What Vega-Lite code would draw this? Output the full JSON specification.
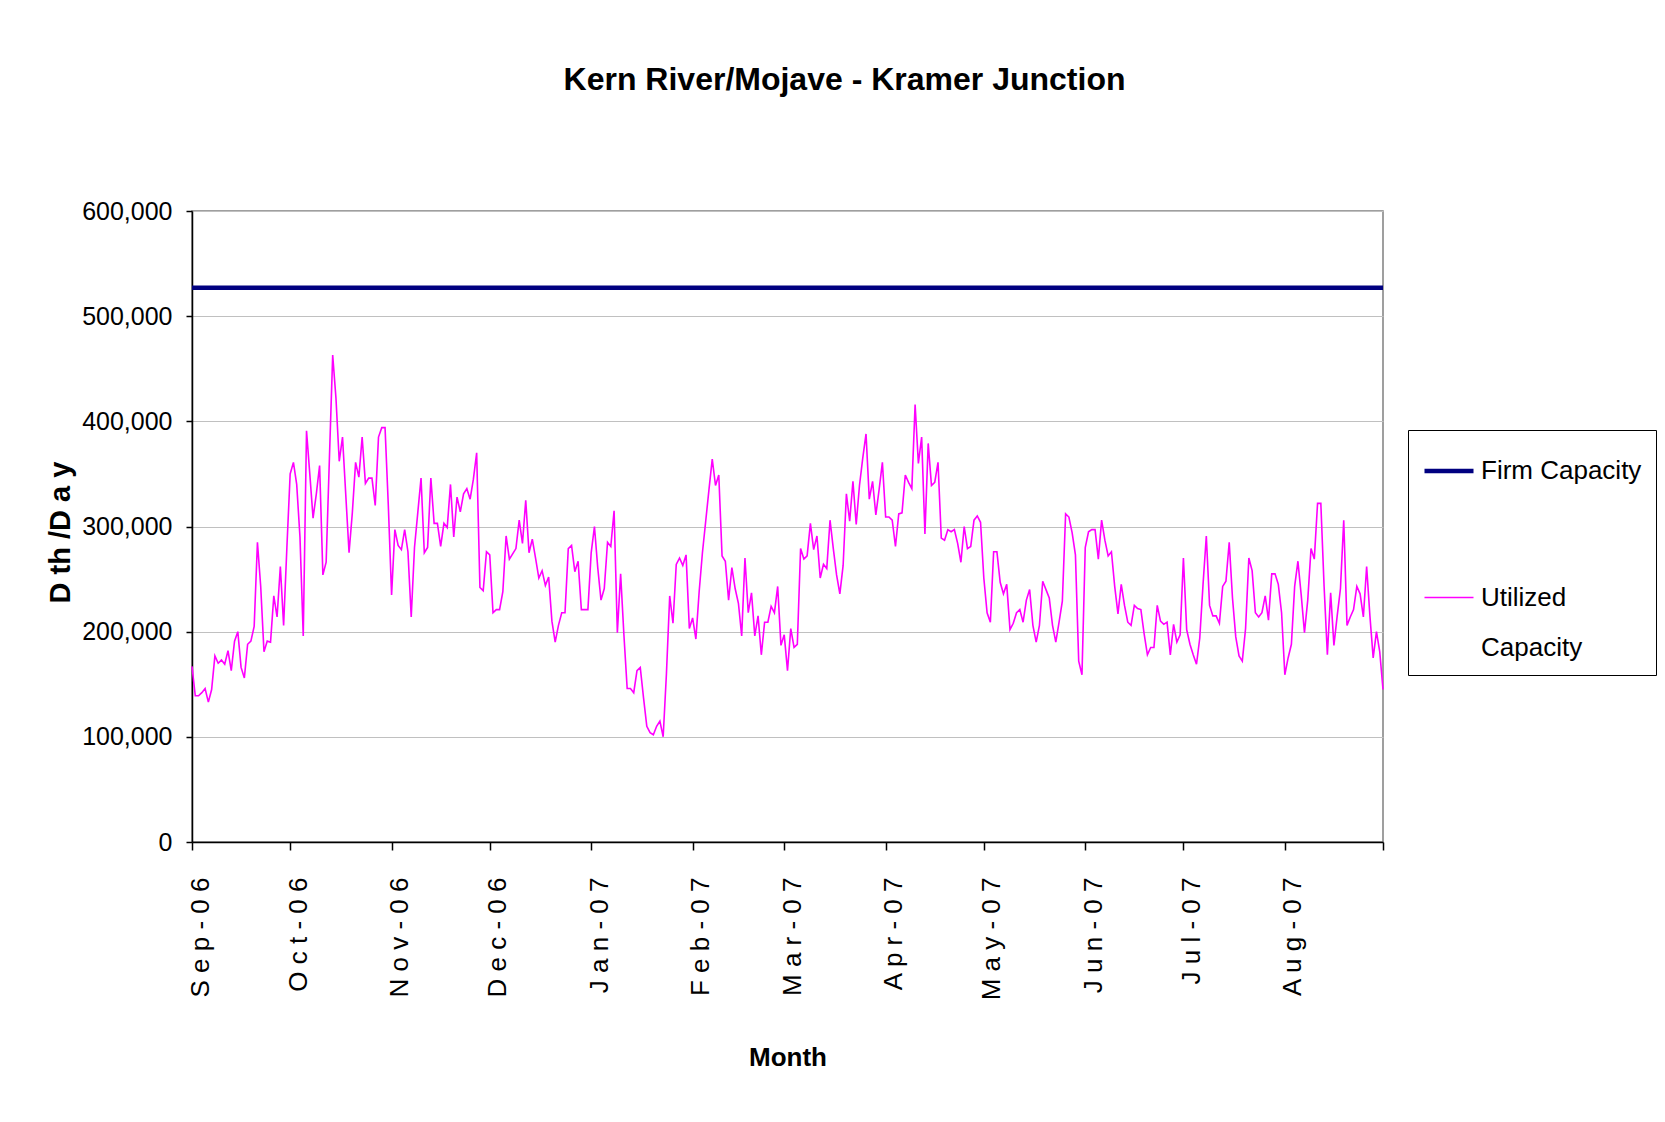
{
"$schema": "https://vega.github.io/schema/vega-lite/v6.json",
"width": 1191, "height": 631,
"autosize": "none",
"padding": {"left": 192, "top": 211, "right": 282, "bottom": 280},
"background": "white",
"title": {"text": "Kern River/Mojave - Kramer Junction", "font": "Liberation Sans", "fontSize": 32, "fontWeight": "bold", "color": "black", "anchor": "middle", "frame": "group", "dx": 57, "offset": 77, "baseline": "alphabetic"},
"config": {"view": {"stroke": "#808080", "strokeWidth": 1.5}, "style": {"guide-label": {"lineHeight": 50}}},
"data": {"values": [
{"date":"2006-09-01","s":"F","v":527000},{"date":"2007-08-31","s":"F","v":527000},
{"date":"2006-09-01","s":"U","v":167000},{"date":"2006-09-02","s":"U","v":139000},{"date":"2006-09-03","s":"U","v":139000},{"date":"2006-09-04","s":"U","v":142000},{"date":"2006-09-05","s":"U","v":146000},{"date":"2006-09-06","s":"U","v":133000},{"date":"2006-09-07","s":"U","v":145000},{"date":"2006-09-08","s":"U","v":177000},{"date":"2006-09-09","s":"U","v":170000},{"date":"2006-09-10","s":"U","v":173000},{"date":"2006-09-11","s":"U","v":169000},{"date":"2006-09-12","s":"U","v":182000},{"date":"2006-09-13","s":"U","v":163000},{"date":"2006-09-14","s":"U","v":191000},{"date":"2006-09-15","s":"U","v":200000},{"date":"2006-09-16","s":"U","v":166000},{"date":"2006-09-17","s":"U","v":156000},{"date":"2006-09-18","s":"U","v":188000},{"date":"2006-09-19","s":"U","v":191000},{"date":"2006-09-20","s":"U","v":205000},{"date":"2006-09-21","s":"U","v":285000},{"date":"2006-09-22","s":"U","v":243000},{"date":"2006-09-23","s":"U","v":181000},{"date":"2006-09-24","s":"U","v":191000},{"date":"2006-09-25","s":"U","v":190000},{"date":"2006-09-26","s":"U","v":234000},{"date":"2006-09-27","s":"U","v":214000},{"date":"2006-09-28","s":"U","v":262000},{"date":"2006-09-29","s":"U","v":206000},{"date":"2006-09-30","s":"U","v":280000},
{"date":"2006-10-01","s":"U","v":350000},{"date":"2006-10-02","s":"U","v":361000},{"date":"2006-10-03","s":"U","v":340000},{"date":"2006-10-04","s":"U","v":290000},{"date":"2006-10-05","s":"U","v":196000},{"date":"2006-10-06","s":"U","v":391000},{"date":"2006-10-07","s":"U","v":350000},{"date":"2006-10-08","s":"U","v":308000},{"date":"2006-10-09","s":"U","v":331000},{"date":"2006-10-10","s":"U","v":358000},{"date":"2006-10-11","s":"U","v":254000},{"date":"2006-10-12","s":"U","v":266000},{"date":"2006-10-13","s":"U","v":365000},{"date":"2006-10-14","s":"U","v":463000},{"date":"2006-10-15","s":"U","v":422000},{"date":"2006-10-16","s":"U","v":362000},{"date":"2006-10-17","s":"U","v":385000},{"date":"2006-10-18","s":"U","v":330000},{"date":"2006-10-19","s":"U","v":275000},{"date":"2006-10-20","s":"U","v":313000},{"date":"2006-10-21","s":"U","v":361000},{"date":"2006-10-22","s":"U","v":347000},{"date":"2006-10-23","s":"U","v":385000},{"date":"2006-10-24","s":"U","v":341000},{"date":"2006-10-25","s":"U","v":346000},{"date":"2006-10-26","s":"U","v":346000},{"date":"2006-10-27","s":"U","v":320000},{"date":"2006-10-28","s":"U","v":385000},{"date":"2006-10-29","s":"U","v":394000},{"date":"2006-10-30","s":"U","v":394000},{"date":"2006-10-31","s":"U","v":320000},
{"date":"2006-11-01","s":"U","v":235000},{"date":"2006-11-02","s":"U","v":297000},{"date":"2006-11-03","s":"U","v":282000},{"date":"2006-11-04","s":"U","v":278000},{"date":"2006-11-05","s":"U","v":297000},{"date":"2006-11-06","s":"U","v":276000},{"date":"2006-11-07","s":"U","v":214000},{"date":"2006-11-08","s":"U","v":280000},{"date":"2006-11-09","s":"U","v":313000},{"date":"2006-11-10","s":"U","v":346000},{"date":"2006-11-11","s":"U","v":275000},{"date":"2006-11-12","s":"U","v":280000},{"date":"2006-11-13","s":"U","v":346000},{"date":"2006-11-14","s":"U","v":303000},{"date":"2006-11-15","s":"U","v":303000},{"date":"2006-11-16","s":"U","v":281000},{"date":"2006-11-17","s":"U","v":303000},{"date":"2006-11-18","s":"U","v":299000},{"date":"2006-11-19","s":"U","v":340000},{"date":"2006-11-20","s":"U","v":290000},{"date":"2006-11-21","s":"U","v":328000},{"date":"2006-11-22","s":"U","v":314000},{"date":"2006-11-23","s":"U","v":331000},{"date":"2006-11-24","s":"U","v":336000},{"date":"2006-11-25","s":"U","v":326000},{"date":"2006-11-26","s":"U","v":345000},{"date":"2006-11-27","s":"U","v":370000},{"date":"2006-11-28","s":"U","v":242000},{"date":"2006-11-29","s":"U","v":239000},{"date":"2006-11-30","s":"U","v":276000},
{"date":"2006-12-01","s":"U","v":273000},{"date":"2006-12-02","s":"U","v":218000},{"date":"2006-12-03","s":"U","v":221000},{"date":"2006-12-04","s":"U","v":221000},{"date":"2006-12-05","s":"U","v":238000},{"date":"2006-12-06","s":"U","v":291000},{"date":"2006-12-07","s":"U","v":269000},{"date":"2006-12-08","s":"U","v":274000},{"date":"2006-12-09","s":"U","v":279000},{"date":"2006-12-10","s":"U","v":306000},{"date":"2006-12-11","s":"U","v":284000},{"date":"2006-12-12","s":"U","v":325000},{"date":"2006-12-13","s":"U","v":275000},{"date":"2006-12-14","s":"U","v":288000},{"date":"2006-12-15","s":"U","v":270000},{"date":"2006-12-16","s":"U","v":251000},{"date":"2006-12-17","s":"U","v":258000},{"date":"2006-12-18","s":"U","v":244000},{"date":"2006-12-19","s":"U","v":252000},{"date":"2006-12-20","s":"U","v":210000},{"date":"2006-12-21","s":"U","v":190000},{"date":"2006-12-22","s":"U","v":206000},{"date":"2006-12-23","s":"U","v":218000},{"date":"2006-12-24","s":"U","v":218000},{"date":"2006-12-25","s":"U","v":279000},{"date":"2006-12-26","s":"U","v":282000},{"date":"2006-12-27","s":"U","v":257000},{"date":"2006-12-28","s":"U","v":267000},{"date":"2006-12-29","s":"U","v":221000},{"date":"2006-12-30","s":"U","v":221000},{"date":"2006-12-31","s":"U","v":221000},
{"date":"2007-01-01","s":"U","v":275000},{"date":"2007-01-02","s":"U","v":300000},{"date":"2007-01-03","s":"U","v":261000},{"date":"2007-01-04","s":"U","v":230000},{"date":"2007-01-05","s":"U","v":241000},{"date":"2007-01-06","s":"U","v":285000},{"date":"2007-01-07","s":"U","v":281000},{"date":"2007-01-08","s":"U","v":315000},{"date":"2007-01-09","s":"U","v":199000},{"date":"2007-01-10","s":"U","v":255000},{"date":"2007-01-11","s":"U","v":197000},{"date":"2007-01-12","s":"U","v":146000},{"date":"2007-01-13","s":"U","v":146000},{"date":"2007-01-14","s":"U","v":142000},{"date":"2007-01-15","s":"U","v":163000},{"date":"2007-01-16","s":"U","v":166000},{"date":"2007-01-17","s":"U","v":137000},{"date":"2007-01-18","s":"U","v":110000},{"date":"2007-01-19","s":"U","v":104000},{"date":"2007-01-20","s":"U","v":102000},{"date":"2007-01-21","s":"U","v":110000},{"date":"2007-01-22","s":"U","v":115000},{"date":"2007-01-23","s":"U","v":100000},{"date":"2007-01-24","s":"U","v":160000},{"date":"2007-01-25","s":"U","v":234000},{"date":"2007-01-26","s":"U","v":208000},{"date":"2007-01-27","s":"U","v":264000},{"date":"2007-01-28","s":"U","v":270000},{"date":"2007-01-29","s":"U","v":263000},{"date":"2007-01-30","s":"U","v":273000},{"date":"2007-01-31","s":"U","v":203000},
{"date":"2007-02-01","s":"U","v":213000},{"date":"2007-02-02","s":"U","v":193000},{"date":"2007-02-03","s":"U","v":238000},{"date":"2007-02-04","s":"U","v":275000},{"date":"2007-02-05","s":"U","v":305000},{"date":"2007-02-06","s":"U","v":335000},{"date":"2007-02-07","s":"U","v":364000},{"date":"2007-02-08","s":"U","v":339000},{"date":"2007-02-09","s":"U","v":349000},{"date":"2007-02-10","s":"U","v":272000},{"date":"2007-02-11","s":"U","v":267000},{"date":"2007-02-12","s":"U","v":230000},{"date":"2007-02-13","s":"U","v":261000},{"date":"2007-02-14","s":"U","v":241000},{"date":"2007-02-15","s":"U","v":227000},{"date":"2007-02-16","s":"U","v":196000},{"date":"2007-02-17","s":"U","v":270000},{"date":"2007-02-18","s":"U","v":218000},{"date":"2007-02-19","s":"U","v":237000},{"date":"2007-02-20","s":"U","v":196000},{"date":"2007-02-21","s":"U","v":215000},{"date":"2007-02-22","s":"U","v":178000},{"date":"2007-02-23","s":"U","v":209000},{"date":"2007-02-24","s":"U","v":209000},{"date":"2007-02-25","s":"U","v":224000},{"date":"2007-02-26","s":"U","v":218000},{"date":"2007-02-27","s":"U","v":243000},{"date":"2007-02-28","s":"U","v":187000},
{"date":"2007-03-01","s":"U","v":197000},{"date":"2007-03-02","s":"U","v":163000},{"date":"2007-03-03","s":"U","v":203000},{"date":"2007-03-04","s":"U","v":185000},{"date":"2007-03-05","s":"U","v":188000},{"date":"2007-03-06","s":"U","v":279000},{"date":"2007-03-07","s":"U","v":269000},{"date":"2007-03-08","s":"U","v":272000},{"date":"2007-03-09","s":"U","v":303000},{"date":"2007-03-10","s":"U","v":278000},{"date":"2007-03-11","s":"U","v":291000},{"date":"2007-03-12","s":"U","v":251000},{"date":"2007-03-13","s":"U","v":264000},{"date":"2007-03-14","s":"U","v":260000},{"date":"2007-03-15","s":"U","v":306000},{"date":"2007-03-16","s":"U","v":279000},{"date":"2007-03-17","s":"U","v":254000},{"date":"2007-03-18","s":"U","v":236000},{"date":"2007-03-19","s":"U","v":263000},{"date":"2007-03-20","s":"U","v":331000},{"date":"2007-03-21","s":"U","v":305000},{"date":"2007-03-22","s":"U","v":343000},{"date":"2007-03-23","s":"U","v":302000},{"date":"2007-03-24","s":"U","v":339000},{"date":"2007-03-25","s":"U","v":365000},{"date":"2007-03-26","s":"U","v":388000},{"date":"2007-03-27","s":"U","v":326000},{"date":"2007-03-28","s":"U","v":343000},{"date":"2007-03-29","s":"U","v":311000},{"date":"2007-03-30","s":"U","v":335000},{"date":"2007-03-31","s":"U","v":361000},
{"date":"2007-04-01","s":"U","v":309000},{"date":"2007-04-02","s":"U","v":309000},{"date":"2007-04-03","s":"U","v":306000},{"date":"2007-04-04","s":"U","v":281000},{"date":"2007-04-05","s":"U","v":312000},{"date":"2007-04-06","s":"U","v":313000},{"date":"2007-04-07","s":"U","v":349000},{"date":"2007-04-08","s":"U","v":342000},{"date":"2007-04-09","s":"U","v":336000},{"date":"2007-04-10","s":"U","v":416000},{"date":"2007-04-11","s":"U","v":360000},{"date":"2007-04-12","s":"U","v":385000},{"date":"2007-04-13","s":"U","v":293000},{"date":"2007-04-14","s":"U","v":379000},{"date":"2007-04-15","s":"U","v":339000},{"date":"2007-04-16","s":"U","v":342000},{"date":"2007-04-17","s":"U","v":361000},{"date":"2007-04-18","s":"U","v":289000},{"date":"2007-04-19","s":"U","v":287000},{"date":"2007-04-20","s":"U","v":297000},{"date":"2007-04-21","s":"U","v":295000},{"date":"2007-04-22","s":"U","v":297000},{"date":"2007-04-23","s":"U","v":284000},{"date":"2007-04-24","s":"U","v":266000},{"date":"2007-04-25","s":"U","v":300000},{"date":"2007-04-26","s":"U","v":279000},{"date":"2007-04-27","s":"U","v":281000},{"date":"2007-04-28","s":"U","v":306000},{"date":"2007-04-29","s":"U","v":310000},{"date":"2007-04-30","s":"U","v":304000},
{"date":"2007-05-01","s":"U","v":251000},{"date":"2007-05-02","s":"U","v":218000},{"date":"2007-05-03","s":"U","v":209000},{"date":"2007-05-04","s":"U","v":276000},{"date":"2007-05-05","s":"U","v":276000},{"date":"2007-05-06","s":"U","v":247000},{"date":"2007-05-07","s":"U","v":236000},{"date":"2007-05-08","s":"U","v":245000},{"date":"2007-05-09","s":"U","v":202000},{"date":"2007-05-10","s":"U","v":208000},{"date":"2007-05-11","s":"U","v":218000},{"date":"2007-05-12","s":"U","v":221000},{"date":"2007-05-13","s":"U","v":209000},{"date":"2007-05-14","s":"U","v":230000},{"date":"2007-05-15","s":"U","v":240000},{"date":"2007-05-16","s":"U","v":206000},{"date":"2007-05-17","s":"U","v":190000},{"date":"2007-05-18","s":"U","v":206000},{"date":"2007-05-19","s":"U","v":248000},{"date":"2007-05-20","s":"U","v":240000},{"date":"2007-05-21","s":"U","v":232000},{"date":"2007-05-22","s":"U","v":206000},{"date":"2007-05-23","s":"U","v":190000},{"date":"2007-05-24","s":"U","v":209000},{"date":"2007-05-25","s":"U","v":229000},{"date":"2007-05-26","s":"U","v":312000},{"date":"2007-05-27","s":"U","v":309000},{"date":"2007-05-28","s":"U","v":294000},{"date":"2007-05-29","s":"U","v":273000},{"date":"2007-05-30","s":"U","v":172000},{"date":"2007-05-31","s":"U","v":159000},
{"date":"2007-06-01","s":"U","v":280000},{"date":"2007-06-02","s":"U","v":295000},{"date":"2007-06-03","s":"U","v":297000},{"date":"2007-06-04","s":"U","v":297000},{"date":"2007-06-05","s":"U","v":269000},{"date":"2007-06-06","s":"U","v":306000},{"date":"2007-06-07","s":"U","v":287000},{"date":"2007-06-08","s":"U","v":272000},{"date":"2007-06-09","s":"U","v":276000},{"date":"2007-06-10","s":"U","v":243000},{"date":"2007-06-11","s":"U","v":217000},{"date":"2007-06-12","s":"U","v":245000},{"date":"2007-06-13","s":"U","v":225000},{"date":"2007-06-14","s":"U","v":209000},{"date":"2007-06-15","s":"U","v":206000},{"date":"2007-06-16","s":"U","v":225000},{"date":"2007-06-17","s":"U","v":222000},{"date":"2007-06-18","s":"U","v":221000},{"date":"2007-06-19","s":"U","v":198000},{"date":"2007-06-20","s":"U","v":178000},{"date":"2007-06-21","s":"U","v":185000},{"date":"2007-06-22","s":"U","v":185000},{"date":"2007-06-23","s":"U","v":225000},{"date":"2007-06-24","s":"U","v":210000},{"date":"2007-06-25","s":"U","v":207000},{"date":"2007-06-26","s":"U","v":209000},{"date":"2007-06-27","s":"U","v":178000},{"date":"2007-06-28","s":"U","v":207000},{"date":"2007-06-29","s":"U","v":190000},{"date":"2007-06-30","s":"U","v":197000},
{"date":"2007-07-01","s":"U","v":270000},{"date":"2007-07-02","s":"U","v":202000},{"date":"2007-07-03","s":"U","v":188000},{"date":"2007-07-04","s":"U","v":178000},{"date":"2007-07-05","s":"U","v":169000},{"date":"2007-07-06","s":"U","v":194000},{"date":"2007-07-07","s":"U","v":245000},{"date":"2007-07-08","s":"U","v":291000},{"date":"2007-07-09","s":"U","v":225000},{"date":"2007-07-10","s":"U","v":215000},{"date":"2007-07-11","s":"U","v":215000},{"date":"2007-07-12","s":"U","v":208000},{"date":"2007-07-13","s":"U","v":243000},{"date":"2007-07-14","s":"U","v":248000},{"date":"2007-07-15","s":"U","v":285000},{"date":"2007-07-16","s":"U","v":232000},{"date":"2007-07-17","s":"U","v":195000},{"date":"2007-07-18","s":"U","v":177000},{"date":"2007-07-19","s":"U","v":172000},{"date":"2007-07-20","s":"U","v":203000},{"date":"2007-07-21","s":"U","v":270000},{"date":"2007-07-22","s":"U","v":258000},{"date":"2007-07-23","s":"U","v":218000},{"date":"2007-07-24","s":"U","v":214000},{"date":"2007-07-25","s":"U","v":218000},{"date":"2007-07-26","s":"U","v":234000},{"date":"2007-07-27","s":"U","v":211000},{"date":"2007-07-28","s":"U","v":255000},{"date":"2007-07-29","s":"U","v":255000},{"date":"2007-07-30","s":"U","v":245000},{"date":"2007-07-31","s":"U","v":218000},
{"date":"2007-08-01","s":"U","v":159000},{"date":"2007-08-02","s":"U","v":175000},{"date":"2007-08-03","s":"U","v":188000},{"date":"2007-08-04","s":"U","v":243000},{"date":"2007-08-05","s":"U","v":267000},{"date":"2007-08-06","s":"U","v":235000},{"date":"2007-08-07","s":"U","v":199000},{"date":"2007-08-08","s":"U","v":230000},{"date":"2007-08-09","s":"U","v":279000},{"date":"2007-08-10","s":"U","v":269000},{"date":"2007-08-11","s":"U","v":322000},{"date":"2007-08-12","s":"U","v":322000},{"date":"2007-08-13","s":"U","v":243000},{"date":"2007-08-14","s":"U","v":178000},{"date":"2007-08-15","s":"U","v":237000},{"date":"2007-08-16","s":"U","v":187000},{"date":"2007-08-17","s":"U","v":215000},{"date":"2007-08-18","s":"U","v":241000},{"date":"2007-08-19","s":"U","v":306000},{"date":"2007-08-20","s":"U","v":206000},{"date":"2007-08-21","s":"U","v":214000},{"date":"2007-08-22","s":"U","v":221000},{"date":"2007-08-23","s":"U","v":243000},{"date":"2007-08-24","s":"U","v":236000},{"date":"2007-08-25","s":"U","v":214000},{"date":"2007-08-26","s":"U","v":262000},{"date":"2007-08-27","s":"U","v":215000},{"date":"2007-08-28","s":"U","v":175000},{"date":"2007-08-29","s":"U","v":200000},{"date":"2007-08-30","s":"U","v":181000},{"date":"2007-08-31","s":"U","v":145000}
]},
"mark": {"type": "line", "interpolate": "linear"},
"encoding": {
 "x": {"field": "date", "type": "temporal",
  "scale": {"type": "utc", "domain": [{"year": 2006, "month": 9, "date": 1, "utc": true}, {"year": 2007, "month": 8, "date": 31, "utc": true}]},
  "axis": {"values": [{"year":2006,"month":9,"date":1,"utc":true},{"year":2006,"month":10,"date":1,"utc":true},{"year":2006,"month":11,"date":1,"utc":true},{"year":2006,"month":12,"date":1,"utc":true},{"year":2007,"month":1,"date":1,"utc":true},{"year":2007,"month":2,"date":1,"utc":true},{"year":2007,"month":3,"date":1,"utc":true},{"year":2007,"month":4,"date":1,"utc":true},{"year":2007,"month":5,"date":1,"utc":true},{"year":2007,"month":6,"date":1,"utc":true},{"year":2007,"month":7,"date":1,"utc":true},{"year":2007,"month":8,"date":1,"utc":true},{"year":2007,"month":8,"date":31,"utc":true}],
   "labelExpr": "utcdate(datum.value) == 1 ? join(split(utcFormat(datum.value, '%b-%y'), ''), ' ') : ''",
   "labelAngle": 270, "labelAlign": "right", "labelBaseline": "middle", "labelOffset": 8,
   "labelFont": "Liberation Sans", "labelFontSize": 26, "labelColor": "black", "labelPadding": 27,
   "labelOverlap": false, "labelBound": false, "labelFlush": false,
   "ticks": true, "tickSize": 8, "tickColor": "black", "tickWidth": 1.5, "domainColor": "black", "domainWidth": 1.5, "grid": false,
   "title": "Month", "titleFont": "Liberation Sans", "titleFontSize": 26, "titleFontWeight": "bold", "titleColor": "black", "titleY": 223, "titleBaseline": "alphabetic"}},
 "y": {"field": "v", "type": "quantitative",
  "scale": {"domain": [0, 600000], "nice": false},
  "axis": {"values": [0, 100000, 200000, 300000, 400000, 500000, 600000], "format": ",.0f",
   "labelFont": "Liberation Sans", "labelFontSize": 25, "labelColor": "black", "labelPadding": 14,
   "tickSize": 6, "tickColor": "black", "tickWidth": 1.5, "domainColor": "black", "domainWidth": 1.5,
   "grid": true, "gridColor": "#c0c0c0", "gridWidth": 1,
   "title": "D th /D a y", "titleFont": "Liberation Sans", "titleFontSize": 29, "titleFontWeight": "bold", "titleColor": "black",
   "titleAngle": 270, "titleX": -132, "titleY": 321, "titleAlign": "center", "titleBaseline": "middle"}},
 "color": {"field": "s", "type": "nominal", "scale": {"domain": ["F", "U"], "range": ["#000080", "#FF00FF"]},
  "legend": {"orient": "none", "legendX": 1216, "legendY": 219, "title": null,
   "labelExpr": "datum.label == 'F' ? 'Firm Capacity' : ['Utilized', 'Capacity']",
   "labelFont": "Liberation Sans", "labelFontSize": 26, "labelColor": "black", "labelLimit": 400, "labelOffset": 5,
   "symbolType": "stroke", "symbolSize": 2401, "padding": 14, "rowPadding": 88, "strokeColor": "black", "fillColor": "white"}},
 "strokeWidth": {"field": "s", "type": "nominal", "scale": {"domain": ["F", "U"], "range": [4.5, 1.6]},
  "legend": {"orient": "none", "legendX": 1216, "legendY": 219, "title": null,
   "labelExpr": "datum.label == 'F' ? 'Firm Capacity' : ['Utilized', 'Capacity']",
   "labelFont": "Liberation Sans", "labelFontSize": 26, "labelColor": "black", "labelLimit": 400, "labelOffset": 5,
   "symbolType": "stroke", "symbolSize": 2401, "padding": 14, "rowPadding": 88, "strokeColor": "black", "fillColor": "white"}}
}
}
